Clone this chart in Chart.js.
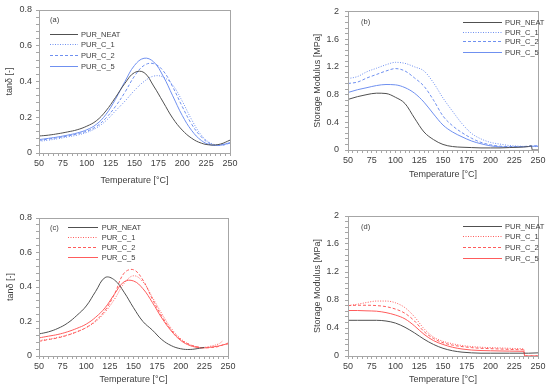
<!DOCTYPE html>
<html>
<head>
<meta charset="utf-8">
<script src="https://cdn.jsdelivr.net/npm/chart.js@4.4.1/dist/chart.umd.min.js"></script>
<style>
  html, body { margin: 0; padding: 0; background: #fff; }
  #wrap { position: relative; width: 550px; height: 389px; }
  .panel { position: absolute; }
</style>
</head>
<body>
<div id="wrap">
  <div class="panel" style="left:0;top:0"><canvas id="chA" width="275" height="195"></canvas></div>
  <div class="panel" style="left:275px;top:0"><canvas id="chB" width="275" height="195"></canvas></div>
  <div class="panel" style="left:0;top:195px"><canvas id="chC" width="275" height="194"></canvas></div>
  <div class="panel" style="left:275px;top:195px"><canvas id="chD" width="275" height="194"></canvas></div>
</div>
<script>
// series names
const seriesNames = ["PUR_NEAT", "PUR_C_1", "PUR_C_2", "PUR_C_5"];

// (a) tan delta, blue set
const tempA = [50, 60, 70, 80, 90, 100, 110, 120, 130, 140, 150, 160, 170, 180, 190, 200, 210, 220, 230, 240, 250];
const neatA = [0.095, 0.10, 0.108, 0.118, 0.13, 0.15, 0.18, 0.235, 0.31, 0.39, 0.45, 0.45, 0.375, 0.285, 0.195, 0.128, 0.082, 0.055, 0.045, 0.05, 0.072];
const c1A   = [0.065, 0.072, 0.08, 0.09, 0.10, 0.115, 0.14, 0.18, 0.235, 0.29, 0.35, 0.40, 0.43, 0.425, 0.38, 0.29, 0.185, 0.10, 0.055, 0.045, 0.055];
const c2A   = [0.07, 0.078, 0.086, 0.095, 0.107, 0.122, 0.148, 0.195, 0.26, 0.34, 0.43, 0.49, 0.50, 0.46, 0.37, 0.26, 0.16, 0.09, 0.05, 0.042, 0.055];
const c5A   = [0.075, 0.082, 0.09, 0.10, 0.112, 0.13, 0.16, 0.215, 0.30, 0.40, 0.49, 0.53, 0.51, 0.43, 0.32, 0.21, 0.125, 0.07, 0.045, 0.045, 0.058];

// (b) storage modulus, blue set
const tempB = [50, 60, 70, 80, 90, 100, 110, 120, 130, 140, 150, 160, 170, 180, 190, 200, 210, 220, 230, 240, 243, 244, 250];
const neatB = [0.73, 0.77, 0.80, 0.82, 0.815, 0.76, 0.67, 0.46, 0.26, 0.15, 0.08, 0.05, 0.04, 0.035, 0.03, 0.03, 0.03, 0.035, 0.04, 0.05, 0.06, 0, 0];
const c1B   = [1.03, 1.06, 1.13, 1.18, 1.23, 1.265, 1.25, 1.20, 1.14, 0.97, 0.75, 0.56, 0.38, 0.24, 0.16, 0.11, 0.085, 0.065, 0.055, 0.05, 0.05, 0.05, 0.05];
const c2B   = [0.96, 0.98, 1.04, 1.09, 1.14, 1.175, 1.14, 1.04, 0.92, 0.72, 0.49, 0.35, 0.25, 0.17, 0.11, 0.075, 0.055, 0.05, 0.05, 0.055, 0.06, 0.06, 0.06];
const c5B   = [0.83, 0.87, 0.90, 0.93, 0.945, 0.94, 0.90, 0.82, 0.69, 0.52, 0.36, 0.26, 0.19, 0.13, 0.09, 0.06, 0.045, 0.04, 0.045, 0.05, 0.055, 0.055, 0.055];

// (c) tan delta, red set
const tempC = [50, 60, 70, 80, 90, 100, 110, 120, 130, 140, 150, 160, 170, 180, 190, 200, 210, 220, 225, 230, 240, 245, 250];
const neatC = [0.128, 0.14, 0.16, 0.19, 0.235, 0.29, 0.375, 0.455, 0.44, 0.37, 0.28, 0.20, 0.15, 0.095, 0.06, 0.042, 0.038, 0.045, 0.05, null, null, null, null];
const c1C   = [0.09, 0.097, 0.108, 0.122, 0.14, 0.165, 0.20, 0.255, 0.33, 0.42, 0.465, 0.43, 0.34, 0.245, 0.16, 0.10, 0.065, 0.05, 0.05, 0.055, 0.07, 0.09, null];
const c2C   = [0.085, 0.095, 0.105, 0.12, 0.14, 0.165, 0.205, 0.265, 0.36, 0.48, 0.50, 0.44, 0.33, 0.23, 0.15, 0.095, 0.065, 0.05, 0.048, 0.048, 0.055, 0.065, 0.075];
const c5C   = [0.105, 0.115, 0.125, 0.14, 0.16, 0.185, 0.225, 0.28, 0.36, 0.43, 0.435, 0.39, 0.31, 0.22, 0.145, 0.09, 0.06, 0.048, 0.047, 0.05, 0.058, 0.065, 0.07];

// (d) storage modulus, red set
const tempD = [50, 60, 70, 80, 90, 100, 110, 120, 130, 140, 150, 160, 170, 180, 190, 200, 210, 220, 230, 235, 236, 240, 250];
const neatD = [0.51, 0.51, 0.51, 0.51, 0.50, 0.47, 0.41, 0.33, 0.24, 0.165, 0.11, 0.075, 0.055, 0.045, 0.04, 0.04, 0.04, 0.04, 0.04, 0.04, 0.04, 0.04, 0.045];
const c1D   = [0.72, 0.74, 0.765, 0.785, 0.785, 0.76, 0.69, 0.56, 0.39, 0.27, 0.21, 0.175, 0.15, 0.135, 0.125, 0.12, 0.115, 0.11, 0.105, 0.10, 0, 0, 0];
const c2D   = [0.72, 0.725, 0.725, 0.72, 0.705, 0.67, 0.61, 0.50, 0.35, 0.25, 0.19, 0.155, 0.135, 0.12, 0.11, 0.105, 0.10, 0.095, 0.09, 0.09, 0, 0, 0];
const c5D   = [0.65, 0.65, 0.645, 0.64, 0.62, 0.585, 0.53, 0.43, 0.31, 0.22, 0.165, 0.125, 0.10, 0.085, 0.078, 0.075, 0.072, 0.07, 0.068, 0.067, 0, 0, 0];

const FONT = '"Liberation Sans", Arial, sans-serif';
const NEAT_COLOR = "#505050";
const BLUE = "#6f90f0";
const RED = "#ff5c5c";
const AXIS_COLOR = "#a6a6a6";

function pts(xs, ys) {
  return xs.map((x, i) => ({ x, y: ys[i] }));
}

// smooth = true -> bezier curve, otherwise monotone (keeps the vertical drops clean)
function makeSets(xs, series, color, smooth) {
  const dashes = [[], [1, 1.5], [3, 2], []];
  return series.map((ys, i) => ({
    label: seriesNames[i],
    data: pts(xs, ys),
    borderColor: i === 0 ? NEAT_COLOR : color,
    borderWidth: 1,
    borderDash: dashes[i],
    pointRadius: 0,
    tension: smooth ? 0.4 : 0,
    cubicInterpolationMode: smooth ? "default" : "monotone",
    spanGaps: false,
    fill: false
  }));
}

function isMult(v, step) {
  const r = v / step;
  return Math.abs(r - Math.round(r)) < 1e-6;
}

function fmtTick(v) {
  if (Math.abs(v) < 1e-9) return "0";
  return String(Math.round(v * 10) / 10);
}

// frame + panel tag + in-plot legend
const panelDecor = {
  id: "panelDecor",
  afterDraw(chart, _args, o) {
    const { ctx, chartArea: a } = chart;
    ctx.save();
    ctx.strokeStyle = AXIS_COLOR;
    ctx.lineWidth = 1;
    ctx.strokeRect(Math.round(a.left) + 0.5, Math.round(a.top) + 0.5,
      Math.round(a.right - a.left), Math.round(a.bottom - a.top));

    ctx.font = `7.5px ${FONT}`;
    ctx.textBaseline = "middle";
    ctx.textAlign = "left";
    ctx.fillStyle = "#404040";
    ctx.fillText(o.tag, o.tagX, o.tagY);

    chart.data.datasets.forEach((ds, i) => {
      const y = Math.round(o.rows[i]) + 0.5;
      ctx.strokeStyle = ds.borderColor;
      ctx.lineWidth = 1;
      ctx.setLineDash(ds.borderDash || []);
      ctx.beginPath();
      ctx.moveTo(o.lineX0, y);
      ctx.lineTo(o.lineX1, y);
      ctx.stroke();
      ctx.setLineDash([]);
      ctx.fillStyle = "#404040";
      ctx.fillText(ds.label, o.textX, y);
    });
    ctx.restore();
  }
};

function buildPanel(canvasId, cfg) {
  const el = document.getElementById(canvasId);
  const W = el.width, H = el.height;
  return new Chart(el, {
    type: "line",
    data: { datasets: cfg.datasets },
    plugins: [panelDecor],
    options: {
      responsive: false,
      animation: false,
      devicePixelRatio: 1,
      layout: { padding: { top: cfg.plot.top, right: W - cfg.plot.right, left: 0, bottom: 0 } },
      plugins: {
        legend: { display: false },
        tooltip: { enabled: false },
        panelDecor: cfg.decor
      },
      scales: {
        x: {
          type: "linear",
          min: 50, max: 250,
          afterFit(s) { s.height = H - cfg.plot.bottom; },
          grid: { drawOnChartArea: false, tickLength: 3, color: AXIS_COLOR },
          border: { color: AXIS_COLOR },
          ticks: {
            stepSize: 5, autoSkip: false, maxRotation: 0, minRotation: 0, maxTicksLimit: 100,
            padding: 2, color: "#404040", font: { family: FONT, size: 9 },
            callback: v => isMult(v, 25) ? String(v) : ""
          },
          title: {
            display: true, text: "Temperature [°C]", color: "#404040",
            font: { family: FONT, size: 9 }, padding: { top: 0, bottom: cfg.xTitlePad }
          }
        },
        y: {
          type: "linear",
          min: 0, max: cfg.yMax,
          afterFit(s) { s.width = cfg.plot.left; },
          grid: { drawOnChartArea: false, tickLength: 3, color: AXIS_COLOR },
          border: { color: AXIS_COLOR },
          ticks: {
            stepSize: cfg.yMinor, autoSkip: false, maxTicksLimit: 100,
            padding: cfg.yTickPad, color: "#404040", font: { family: FONT, size: 9 },
            callback: v => isMult(v, cfg.yMajor) ? fmtTick(v) : ""
          },
          title: {
            display: true, text: cfg.yTitle, color: "#404040",
            font: { family: FONT, size: 9 }, padding: { top: cfg.yTitlePad, bottom: 0 }
          }
        }
      }
    }
  });
}

buildPanel("chA", {
  datasets: makeSets(tempA, [neatA, c1A, c2A, c5A], BLUE, true),
  plot: { left: 39, right: 230, top: 10, bottom: 153 },
  yMax: 0.8, yMinor: 0.04, yMajor: 0.2, yTitle: "tanδ [-]",
  yTitlePad: 4.6, xTitlePad: 8.6, yTickPad: 4,
  decor: { tag: "(a)", tagX: 50, tagY: 20, lineX0: 50, lineX1: 78, textX: 81, rows: [33.7, 44.3, 55, 65.7] }
});

buildPanel("chB", {
  datasets: makeSets(tempB, [neatB, c1B, c2B, c5B], BLUE, false),
  plot: { left: 73, right: 263, top: 11, bottom: 150 },
  yMax: 2, yMinor: 0.08, yMajor: 0.4, yTitle: "Storage Modulus [MPa]",
  yTitlePad: 37.3, xTitlePad: 14.6, yTickPad: 6,
  decor: { tag: "(b)", tagX: 86, tagY: 22, lineX0: 188, lineX1: 227, textX: 230, rows: [22, 32, 41.3, 51.7] }
});

buildPanel("chC", {
  datasets: makeSets(tempC, [neatC, c1C, c2C, c5C], RED, true),
  plot: { left: 39, right: 228, top: 23, bottom: 161 },
  yMax: 0.8, yMinor: 0.04, yMajor: 0.2, yTitle: "tanδ [-]",
  yTitlePad: 5.3, xTitlePad: 3.6, yTickPad: 4,
  decor: { tag: "(c)", tagX: 50, tagY: 33, lineX0: 68, lineX1: 98, textX: 101.7, rows: [32.3, 42, 52.3, 62] }
});

buildPanel("chD", {
  datasets: makeSets(tempD, [neatD, c1D, c2D, c5D], RED, false),
  plot: { left: 73, right: 263, top: 21, bottom: 161 },
  yMax: 2, yMinor: 0.08, yMajor: 0.4, yTitle: "Storage Modulus [MPa]",
  yTitlePad: 37.3, xTitlePad: 3.6, yTickPad: 6,
  decor: { tag: "(d)", tagX: 86, tagY: 31.7, lineX0: 188, lineX1: 227, textX: 230, rows: [30.7, 41.3, 52, 62.7] }
});
</script>
</body>
</html>
